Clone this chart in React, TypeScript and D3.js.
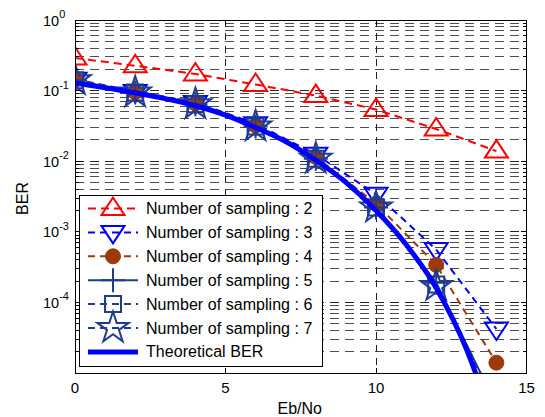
import React from 'react';
import * as d3 from 'd3';

// ---- data ----
const ebno = [0, 2, 4, 6, 8, 10, 12, 14];
const berS2 = [0.29, 0.225, 0.172, 0.122, 0.085, 0.054, 0.0286, 0.0139];
const berS3 = [0.145, 0.097, 0.068, 0.034, 0.0125, 3.4e-3, 5.6e-4, 4.2e-5];
const berS4 = [0.142, 0.095, 0.066, 0.032, 0.0115, 2.5e-3, 3.4e-4, 1.4e-5];
const berS5 = [0.14, 0.094, 0.064, 0.031, 0.0108, 2.2e-3, 1.9e-4, 3.5e-6];
const berS6 = [0.14, 0.094, 0.064, 0.031, 0.0108, 2.2e-3, 1.8e-4, 3.5e-6];
const berS7 = [0.14, 0.094, 0.064, 0.031, 0.0108, 2.2e-3, 1.7e-4, 3.3e-6];
const theoryX = [0, 1, 2, 3, 4, 5, 6, 7, 8, 9, 10, 11, 12, 13, 13.5];
const theoryBer = [0.128, 0.11, 0.093, 0.077, 0.061, 0.045, 0.03, 0.019, 0.0103, 0.005, 0.002, 6.6e-4, 1.6e-4, 2.2e-5, 6e-6];
const xTicks = [0, 5, 10, 15];
const yTickExps = [0, -1, -2, -3, -4];
const legendLabels = [
  'Number of sampling : 2',
  'Number of sampling : 3',
  'Number of sampling : 4',
  'Number of sampling : 5',
  'Number of sampling : 6',
  'Number of sampling : 7',
  'Theoretical BER',
];

const FONT = 'Liberation Sans, Arial, Helvetica, sans-serif';
const NAVY = '#1f3c8f';

type MarkerKind = 'triUp' | 'triDown' | 'circle' | 'plus' | 'square' | 'star' | 'none';

function markerPath(kind: MarkerKind): string {
  switch (kind) {
    case 'triUp':
      return 'M0,-11 L11.5,6.5 L-11.5,6.5 Z';
    case 'triDown':
      return 'M0,11 L11.5,-6.5 L-11.5,-6.5 Z';
    case 'square':
      return 'M-8,-8 L8,-8 L8,8 L-8,8 Z';
    case 'plus':
      return 'M-12,0 L12,0 M0,-12 L0,12';
    case 'star': {
      const R = 16.5, r = R * 0.382;
      const pts: string[] = [];
      for (let i = 0; i < 10; i++) {
        const a = -Math.PI / 2 + (i * Math.PI) / 5;
        const rr = i % 2 === 0 ? R : r;
        pts.push(`${(rr * Math.cos(a)).toFixed(2)},${(rr * Math.sin(a)).toFixed(2)}`);
      }
      return 'M' + pts.join(' L') + ' Z';
    }
    default:
      return '';
  }
}

type Series = {
  xs: number[];
  ys: number[];
  color: string;
  dash: string | null;
  width: number;
  marker: MarkerKind;
  fill: string;
  smooth?: boolean;
};

const series: Series[] = [
  { xs: ebno, ys: berS2, color: '#ff0000', dash: '8,5', width: 2, marker: 'triUp', fill: 'none' },
  { xs: ebno, ys: berS3, color: '#0000ff', dash: '7,5', width: 2, marker: 'triDown', fill: 'none' },
  { xs: ebno, ys: berS4, color: '#9c3a0c', dash: '7,5', width: 2, marker: 'circle', fill: '#9c3a0c' },
  { xs: ebno, ys: berS5, color: NAVY, dash: null, width: 2, marker: 'plus', fill: 'none' },
  { xs: ebno, ys: berS6, color: NAVY, dash: '7,5', width: 2, marker: 'square', fill: 'none' },
  { xs: ebno, ys: berS7, color: NAVY, dash: '7,5', width: 2, marker: 'star', fill: 'none' },
  { xs: theoryX, ys: theoryBer, color: '#0000ff', dash: null, width: 5, marker: 'none', fill: 'none', smooth: true },
];

function Marker({ kind, cx, cy, color, fill }: { kind: MarkerKind; cx: number; cy: number; color: string; fill: string }) {
  if (kind === 'none') return null;
  if (kind === 'circle') {
    return <circle cx={cx} cy={cy} r={7.5} fill={fill} stroke={color} strokeWidth={1} />;
  }
  return (
    <path
      d={markerPath(kind)}
      transform={`translate(${cx},${cy})`}
      fill={fill}
      stroke={color}
      strokeWidth={2}
      strokeLinejoin="miter"
    />
  );
}

export default function App() {
  const left = 75, right = 526.5, top = 20, bottom = 373;
  const x = d3.scaleLinear().domain([0, 15]).range([left, right]);
  const y = d3.scaleLog().domain([1e-5, 1]).range([bottom, top]);

  const minorVals: number[] = [];
  for (let e = -5; e <= -1; e++) {
    for (let m = 2; m <= 9; m++) minorVals.push(m * Math.pow(10, e));
  }
  const majorVals = [1e-4, 1e-3, 1e-2, 1e-1];
  const vGrid = [5, 10];

  const lineGen = (s: Series) =>
    d3
      .line<number>()
      .x((_, i) => x(s.xs[i]))
      .y((d) => y(d))
      .curve(s.smooth ? d3.curveMonotoneX : d3.curveLinear)(s.ys) || '';

  // legend layout
  const lgX = 79.5, lgY = 195.5, lgW = 243, lgH = 170.5;
  const rowY = (i: number) => 208.5 + i * 23.9;

  return (
    <svg
      width={545}
      height={417}
      style={{ position: 'absolute', left: 0, top: 0, background: '#fff' }}
      fontFamily={FONT}
    >
      <rect x={0} y={0} width={545} height={417} fill="#fff" />
      <defs>
        <clipPath id="plotClip">
          <rect x={left} y={top} width={right - left} height={bottom - top} />
        </clipPath>
      </defs>

      {/* grid */}
      <g stroke="#4d4d4d" strokeWidth={1} fill="none" shapeRendering="crispEdges">
        {minorVals.map((v, i) => (
          <line key={'mn' + i} x1={left} x2={right} y1={y(v)} y2={y(v)} strokeDasharray="9,6" />
        ))}
        {majorVals.map((v, i) => (
          <line key={'mj' + i} x1={left} x2={right} y1={y(v)} y2={y(v)} strokeDasharray="9,6" stroke="#222" />
        ))}
        {vGrid.map((v, i) => (
          <line key={'vg' + i} x1={x(v)} x2={x(v)} y1={top} y2={bottom} strokeDasharray="7,6" stroke="#222" />
        ))}
      </g>

      {/* series */}
      <g clipPath="url(#plotClip)">
        {series.map((s, si) => (
          <g key={'s' + si}>
            <path
              d={lineGen(s)}
              fill="none"
              stroke={s.color}
              strokeWidth={s.width}
              strokeDasharray={s.dash || undefined}
              strokeLinejoin="round"
            />
            {s.marker !== 'none' &&
              s.ys.map((v, i) => (
                <Marker key={i} kind={s.marker} cx={x(s.xs[i])} cy={y(v)} color={s.color} fill={s.fill} />
              ))}
          </g>
        ))}
      </g>

      {/* axes box and ticks */}
      <g stroke="#000" strokeWidth={1} fill="none" shapeRendering="crispEdges">
        <rect x={left} y={top} width={right - left} height={bottom - top} />
        {vGrid.map((v, i) => (
          <g key={'xt' + i}>
            <line x1={x(v)} x2={x(v)} y1={bottom} y2={bottom - 5} />
            <line x1={x(v)} x2={x(v)} y1={top} y2={top + 5} />
          </g>
        ))}
        {majorVals.map((v, i) => (
          <g key={'yt' + i}>
            <line x1={left} x2={left + 6} y1={y(v)} y2={y(v)} />
            <line x1={right} x2={right - 6} y1={y(v)} y2={y(v)} />
          </g>
        ))}
        {minorVals.map((v, i) => (
          <g key={'ymt' + i}>
            <line x1={left} x2={left + 3.5} y1={y(v)} y2={y(v)} />
            <line x1={right} x2={right - 3.5} y1={y(v)} y2={y(v)} />
          </g>
        ))}
      </g>

      {/* x tick labels */}
      <g fontSize={15} fill="#000" textAnchor="middle">
        {xTicks.map((t) => (
          <text key={'xl' + t} x={x(t)} y={393}>
            {t}
          </text>
        ))}
      </g>
      <text x={(left + right) / 2 - 1} y={414} fontSize={16} textAnchor="middle" fill="#000">
        Eb/No
      </text>

      {/* y tick labels */}
      <g fill="#000">
        {yTickExps.map((e) => (
          <text key={'yl' + e} x={43} y={y(Math.pow(10, e)) + 5.5} fontSize={14.5}>
            10
            <tspan fontSize={11} dy={-7.5}>
              {String(e)}
            </tspan>
          </text>
        ))}
      </g>
      <text
        transform={`translate(28,${(top + bottom) / 2 + 2}) rotate(-90)`}
        fontSize={16}
        textAnchor="middle"
        fill="#000"
      >
        BER
      </text>

      {/* legend */}
      <g>
        <rect x={lgX} y={lgY} width={lgW} height={lgH} fill="#fff" stroke="#000" strokeWidth={1} shapeRendering="crispEdges" />
        {series.map((s, i) => (
          <g key={'lg' + i}>
            <line
              x1={88}
              x2={138}
              y1={rowY(i)}
              y2={rowY(i)}
              stroke={s.color}
              strokeWidth={s.width}
              strokeDasharray={s.dash || undefined}
            />
            <Marker kind={s.marker} cx={113} cy={rowY(i)} color={s.color} fill={s.fill} />
            <text x={146} y={rowY(i) + 5.5} fontSize={16} letterSpacing={0.05} fill="#000">
              {legendLabels[i]}
            </text>
          </g>
        ))}
      </g>
    </svg>
  );
}
